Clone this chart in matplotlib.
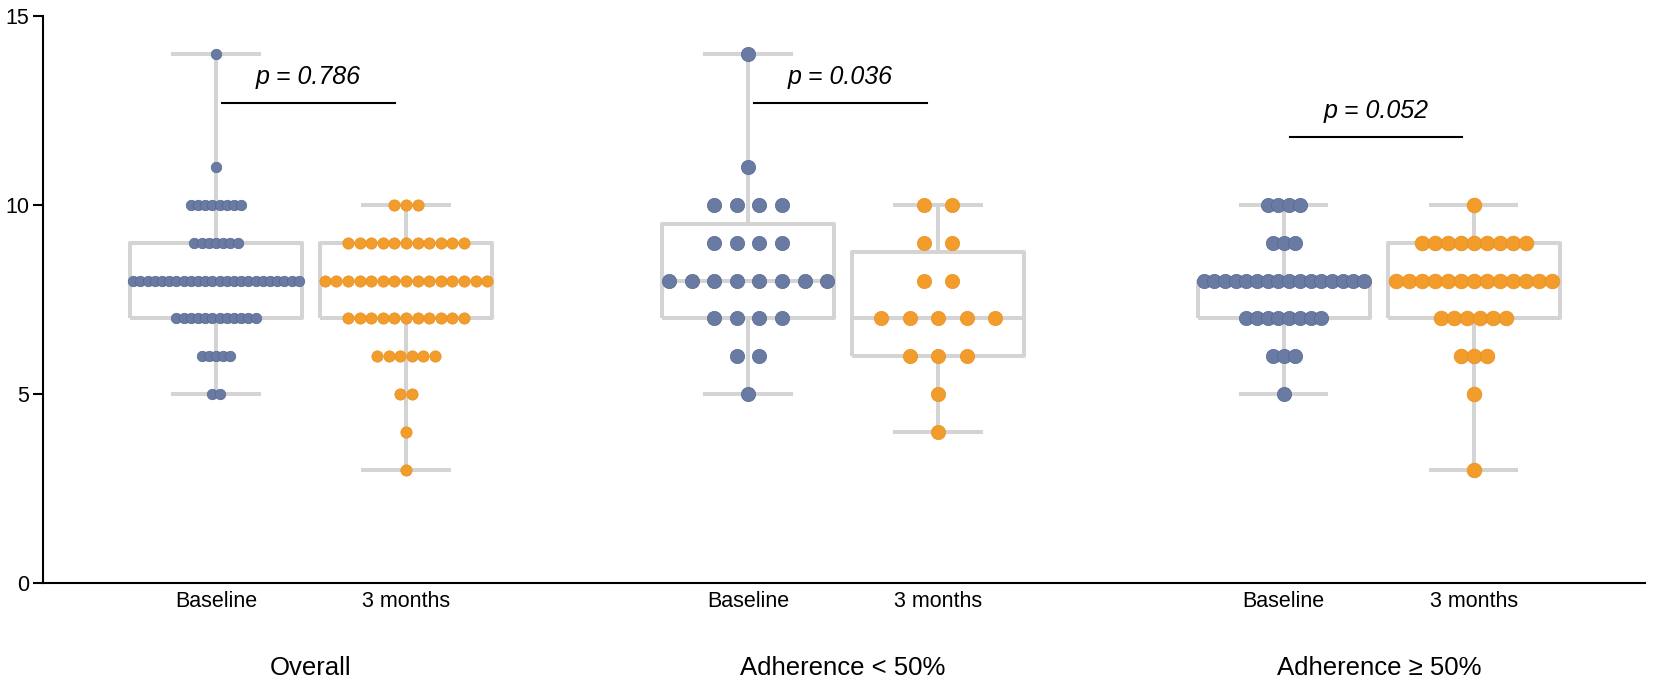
import numpy as np
import matplotlib.pyplot as plt

plt.rcParams['font.family'] = ['Liberation Sans', 'DejaVu Sans']

# score levels and how many patients sit at each level
score_levels = [3, 4, 5, 6, 7, 8, 9, 10, 11, 14]
overall_baseline = [0, 0, 2, 5, 12, 24, 7, 8, 1, 1]
overall_3m = [1, 1, 2, 6, 11, 15, 11, 3, 0, 0]
low_baseline = [0, 0, 1, 2, 4, 8, 4, 4, 1, 1]
low_3m = [0, 1, 1, 3, 5, 2, 2, 2, 0, 0]
high_baseline = [0, 0, 1, 3, 8, 16, 3, 4, 0, 0]
high_3m = [1, 0, 1, 3, 6, 13, 9, 1, 0, 0]

time_labels = ['Baseline', '3 months']
group_labels = ['Overall', 'Adherence < 50%', 'Adherence \u2265 50%']
p_labels = ['p = 0.786', 'p = 0.036', 'p = 0.052']
p_bar_y = [12.7, 12.7, 11.8]

all_counts = [overall_baseline, overall_3m, low_baseline, low_3m, high_baseline, high_3m]

# layout / style
positions = [0, 1, 2.8, 3.8, 5.62, 6.62]
px_per_unit = 190.0
dot_spacing_px = [7.2, 11.6, 22.6, 28.5, 10.7, 13.0]
dot_diam_px = [10.5, 11.3, 14.3, 14.3, 14.3, 14.7]
blue = '#6A7BA3'
orange = '#F29C2B'
gray = '#D4D4D4'
dpi = 100

fig = plt.figure(figsize=(16.53, 6.85), dpi=dpi)
ax = fig.add_axes([43 / 1653, 102 / 685, (1645 - 43) / 1653, (583 - 16) / 685])

stats = []
for counts in all_counts:
    vals = np.repeat(score_levels, counts)
    q1, med, q3 = np.percentile(vals, [25, 50, 75], method='weibull')
    stats.append(dict(med=med, q1=q1, q3=q3, whislo=vals.min(), whishi=vals.max(), fliers=[]))

lp = dict(color=gray, linewidth=2.9, solid_capstyle='butt')
ax.bxp(stats, positions=positions, widths=0.905, capwidths=0.47, showfliers=False,
       boxprops=lp, whiskerprops=lp, capprops=lp, medianprops=lp, manage_ticks=False,
       zorder=1)

# dot rows centred on each box
for i, counts in enumerate(all_counts):
    col = blue if i % 2 == 0 else orange
    edge = '#55688F' if i % 2 == 0 else '#E8901F'
    sp = dot_spacing_px[i] / px_per_unit
    xs, ys = [], []
    for lvl, n in zip(score_levels, counts):
        for k in range(n):
            xs.append(positions[i] + (k - (n - 1) / 2) * sp)
            ys.append(lvl)
    size = (dot_diam_px[i] * 72 / dpi) ** 2
    ax.scatter(xs, ys, s=size, color=col, edgecolors=edge, linewidths=0.5, zorder=3)

# p-value brackets
for g in range(3):
    x0 = positions[2 * g] + 0.03
    x1 = positions[2 * g + 1] - 0.06
    ax.plot([x0, x1], [p_bar_y[g], p_bar_y[g]], color='black', linewidth=1.5)
    ax.text((x0 + x1) / 2, p_bar_y[g] + 0.68, p_labels[g], ha='center', va='center',
            fontsize=18, style='italic')
    ax.text((positions[2 * g] + positions[2 * g + 1]) / 2, -2.24, group_labels[g],
            ha='center', va='center', fontsize=18.5)

ax.set_xlim(-0.9105, 7.521)
ax.set_ylim(0, 15)
ax.set_yticks([0, 5, 10, 15])
ax.set_xticks(positions)
ax.set_xticklabels(time_labels * 3)
ax.tick_params(axis='x', length=0, pad=6, labelsize=15.5)
ax.tick_params(axis='y', length=7, width=1.5, labelsize=15.5, pad=3)
for s in ['top', 'right']:
    ax.spines[s].set_visible(False)
for s in ['left', 'bottom']:
    ax.spines[s].set_linewidth(1.5)

fig.savefig('out.png', dpi=dpi)
